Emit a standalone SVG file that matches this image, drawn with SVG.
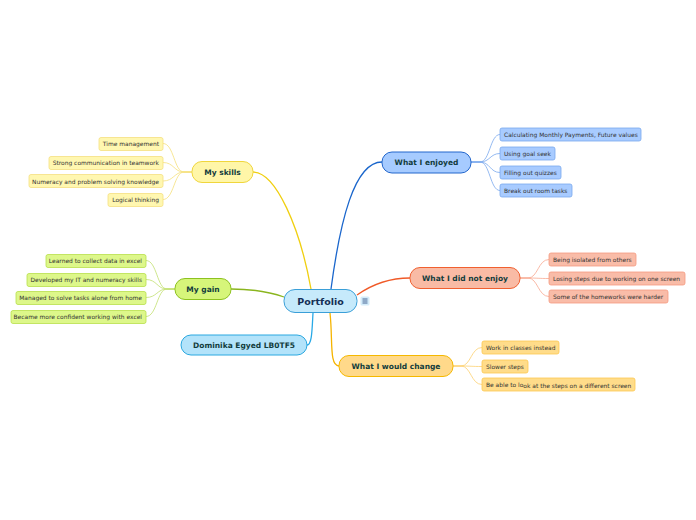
<svg xmlns="http://www.w3.org/2000/svg" width="696" height="520" viewBox="0 0 696 520">
<style>
text{font-family:"DejaVu Sans","Verdana",sans-serif}
.main{font-size:7.5px;font-weight:bold;fill:#123c3c;text-anchor:middle}
.root{font-size:9.5px;font-weight:bold;fill:#142e55;text-anchor:middle}
.sub{font-size:5.95px;fill:#333}
.l{text-anchor:end}
.c{fill:none;stroke-width:1.3}
.cc{fill:none;stroke-width:0.8}
</style>
<rect width="696" height="520" fill="#fff"/>
<g id="connectors">
<path class="c" stroke="#f0cf10" d="M253,172 C276,172 300,228 311,289"/>
<path class="c" stroke="#1a66cc" d="M331,289 C340,222 354,162 382,162"/>
<path class="c" stroke="#f05a28" d="M357,295 C374,283 390,278 410,278"/>
<path class="c" stroke="#8ab51e" d="M231,289 C256,289 270,292 284,297"/>
<path class="c" stroke="#29a9e6" d="M313,313 C312,330 312,345 307,345"/>
<path class="c" stroke="#f5b400" d="M330,313 C333,340 329,366 339,366"/>
<g stroke="#f5e07a">
<path class="cc" d="M192,172 L184,172 C174,172 174,143.5 163,143.5"/>
<path class="cc" d="M192,172 L184,172 C174,172 174,162.5 163,162.5"/>
<path class="cc" d="M192,172 L184,172 C174,172 174,181 163,181"/>
<path class="cc" d="M192,172 L184,172 C174,172 174,199.5 163,199.5"/>
</g>
<g stroke="#c2e070">
<path class="cc" d="M175,289 L167,289 C157,289 157,260.5 146,260.5"/>
<path class="cc" d="M175,289 L167,289 C157,289 157,279.5 146,279.5"/>
<path class="cc" d="M175,289 L167,289 C157,289 157,297.5 146,297.5"/>
<path class="cc" d="M175,289 L167,289 C157,289 157,316.5 146,316.5"/>
</g>
<g stroke="#7aa8ee">
<path class="cc" d="M471,162 L480,162 C490,162 490,134.5 500,134.5"/>
<path class="cc" d="M471,162 L480,162 C490,162 490,153.5 500,153.5"/>
<path class="cc" d="M471,162 L480,162 C490,162 490,172.5 500,172.5"/>
<path class="cc" d="M471,162 L480,162 C490,162 490,190.5 500,190.5"/>
</g>
<g stroke="#f7a890">
<path class="cc" d="M520,278 L528,278 C538,278 538,259.5 549,259.5"/>
<path class="cc" d="M520,278 L528,278 C538,278 538,278.5 549,278.5"/>
<path class="cc" d="M520,278 L528,278 C538,278 538,296.5 549,296.5"/>
</g>
<g stroke="#fcd070">
<path class="cc" d="M453,366 L461,366 C471,366 471,347.5 482,347.5"/>
<path class="cc" d="M453,366 L461,366 C471,366 471,366.5 482,366.5"/>
<path class="cc" d="M453,366 L461,366 C471,366 471,384.5 482,384.5"/>
</g>
</g>
<g id="portfolio">
<rect x="284" y="289.5" width="73" height="23" rx="11" fill="#c6eafb" stroke="#3a9fd8" stroke-width="1"/>
<text class="root" x="320.5" y="304.5">Portfolio</text>
<rect x="360.5" y="296.5" width="9" height="9" rx="1.5" fill="#d3ecfa"/>
<path d="M362.5,299h5M362.5,301h5M362.5,303h5" stroke="#3a5a8a" stroke-width="0.9"/>
</g>
<g id="my-skills">
<rect x="192" y="161.5" width="61" height="21" rx="10" fill="#fff6a8" stroke="#f0d63c"/>
<text class="main" x="222.5" y="174.5">My skills</text>
</g>
<g id="skills-children">
<rect x="99" y="137.5" width="64" height="13" rx="2" fill="#fff7b0" stroke="#f5e080" stroke-width="0.8"/>
<text class="sub l" x="159" y="146">Time management</text>
<rect x="49" y="156.5" width="114" height="13" rx="2" fill="#fff7b0" stroke="#f5e080" stroke-width="0.8"/>
<text class="sub l" x="159" y="165">Strong communication in teamwork</text>
<rect x="29" y="174.5" width="134" height="13" rx="2" fill="#fff7b0" stroke="#f5e080" stroke-width="0.8"/>
<text class="sub l" x="159" y="183.5">Numeracy and problem solving knowledge</text>
<rect x="108" y="193.5" width="55" height="13" rx="2" fill="#fff7b0" stroke="#f5e080" stroke-width="0.8"/>
<text class="sub l" x="159" y="202">Logical thinking</text>
</g>
<g id="my-gain">
<rect x="175" y="278.5" width="56" height="21" rx="10" fill="#d6f57a" stroke="#8dc21f"/>
<text class="main" x="203" y="291.5">My gain</text>
</g>
<g id="gain-children">
<rect x="46" y="254.5" width="100" height="13" rx="2" fill="#ddf78a" stroke="#b8e04a" stroke-width="0.8"/>
<text class="sub l" x="142" y="263">Learned to collect data in excel</text>
<rect x="27" y="273.5" width="119" height="13" rx="2" fill="#ddf78a" stroke="#b8e04a" stroke-width="0.8"/>
<text class="sub l" x="142" y="282">Developed my IT and numeracy skills</text>
<rect x="16" y="291.5" width="130" height="13" rx="2" fill="#ddf78a" stroke="#b8e04a" stroke-width="0.8"/>
<text class="sub l" x="142" y="300">Managed to solve tasks alone from home</text>
<rect x="11" y="310.5" width="135" height="13" rx="2" fill="#ddf78a" stroke="#b8e04a" stroke-width="0.8"/>
<text class="sub l" x="142" y="319">Became more confident working with excel</text>
</g>
<g id="dominika">
<rect x="181" y="335" width="126" height="20" rx="10" fill="#b3e3fa" stroke="#2aa8e0"/>
<text class="main" x="244" y="347.8">Dominika Egyed LB0TF5</text>
</g>
<g id="what-i-enjoyed">
<rect x="382" y="152" width="89" height="21" rx="10" fill="#a6cbff" stroke="#2266cc"/>
<text class="main" x="426.5" y="165">What I enjoyed</text>
</g>
<g id="enjoyed-children">
<rect x="500" y="128" width="141" height="13" rx="2" fill="#a8cbff" stroke="#7aa8ee" stroke-width="0.8"/>
<text class="sub" x="504" y="136.5">Calculating Monthly Payments, Future values</text>
<rect x="500" y="147" width="55" height="13" rx="2" fill="#a8cbff" stroke="#7aa8ee" stroke-width="0.8"/>
<text class="sub" x="504" y="155.5">Using goal seek</text>
<rect x="500" y="166" width="61" height="13" rx="2" fill="#a8cbff" stroke="#7aa8ee" stroke-width="0.8"/>
<text class="sub" x="504" y="174.5">Filling out quizzes</text>
<rect x="500" y="184" width="72" height="13" rx="2" fill="#a8cbff" stroke="#7aa8ee" stroke-width="0.8"/>
<text class="sub" x="504" y="192.5">Break out room tasks</text>
</g>
<g id="what-i-did-not-enjoy">
<rect x="410" y="267.5" width="110" height="21" rx="10" fill="#f9bba5" stroke="#f06030"/>
<text class="main" x="465" y="280.5">What I did not enjoy</text>
</g>
<g id="not-enjoy-children">
<rect x="549" y="253" width="87" height="13" rx="2" fill="#f9bca8" stroke="#f59a80" stroke-width="0.8"/>
<text class="sub" x="553" y="261.5">Being isolated from others</text>
<rect x="549" y="272" width="136" height="13" rx="2" fill="#f9bca8" stroke="#f59a80" stroke-width="0.8"/>
<text class="sub" x="553" y="280.5">Losing steps due to working on one screen</text>
<rect x="549" y="290" width="119" height="13" rx="2" fill="#f9bca8" stroke="#f59a80" stroke-width="0.8"/>
<text class="sub" x="553" y="298.5">Some of the homeworks were harder</text>
</g>
<g id="what-i-would-change">
<rect x="339" y="355.5" width="114" height="21" rx="10" fill="#ffd98a" stroke="#f5b800"/>
<text class="main" x="396" y="368.5">What I would change</text>
</g>
<g id="change-children">
<rect x="482" y="341" width="77" height="13" rx="2" fill="#ffdc8a" stroke="#fcc850" stroke-width="0.8"/>
<text class="sub" x="486" y="349.5">Work in classes instead</text>
<rect x="482" y="360" width="46" height="13" rx="2" fill="#ffdc8a" stroke="#fcc850" stroke-width="0.8"/>
<text class="sub" x="486" y="368.5">Slower steps</text>
<rect x="482" y="378" width="153" height="13" rx="2" fill="#ffdc8a" stroke="#fcc850" stroke-width="0.8"/>
<text class="sub" x="486" y="386.5">Be able to lo<tspan dy="1">ok at the steps on a different screen</tspan></text>
</g>
</svg>
